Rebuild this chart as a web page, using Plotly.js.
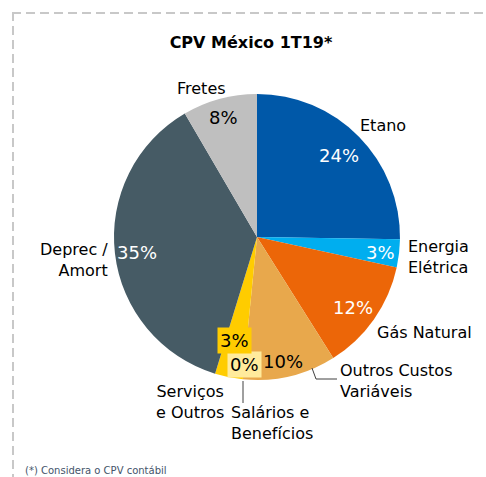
<!DOCTYPE html>
<html>
<head>
<meta charset="utf-8">
<script src="https://cdn.plot.ly/plotly-3.0.1.min.js"></script>
<style>html,body{margin:0;padding:0;background:#fff}</style>
</head>
<body>
<div id="graph"></div>
<script>
// CPV México 1T19 - shares of cost (%)
var categories = ["Etano", "Energia<br>Elétrica", "Gás Natural", "Outros Custos<br>Variáveis",
                  "Salários e<br>Benefícios", "Serviços<br>e Outros", "Deprec /<br>Amort", "Fretes"];
var shares = [24, 3, 12, 10, 0, 3, 35, 8];

var sliceColors = ["#0058A8", "#00AEEF", "#EC6608", "#E8A84C", "#FFE699", "#FFCC00", "#465B65", "#BFBFBF"];
var pctColors = ["#fff", "#fff", "#fff", "#000", "#000", "#000", "#fff", "#000"];
var pctBoxes = [null, null, null, null, "#FFEB9C", "#FFCC00", null, null];

var W = 486, H = 477;
function px(x) { return x / W; }
function py(y) { return 1 - y / H; }

// label placement (pixels): [x, y, xanchor]
var namePos = [[383, 126, "center"], [406, 257, "left"], [424, 332, "center"], [338, 381, "left"],
               [229, 423, "left"], [190, 402, "center"], [110, 260, "right"], [201, 88, "center"]];
var pctPos = [[339, 156], [380, 252], [353, 307], [283, 361], [244, 364], [234, 340], [137, 252], [223, 118]];

var font = "DejaVu Sans, sans-serif";
var annotations = [];
categories.forEach(function(c, i) {
  annotations.push({
    text: c, x: px(namePos[i][0]), y: py(namePos[i][1]), xref: "paper", yref: "paper",
    xanchor: namePos[i][2], yanchor: "middle", align: namePos[i][2] == "right" ? "right" : (namePos[i][2] == "left" ? "left" : "center"),
    showarrow: false, font: {family: font, size: 16, color: "#000"}
  });
  annotations.push({
    text: shares[i] + "%", x: px(pctPos[i][0]), y: py(pctPos[i][1]), xref: "paper", yref: "paper",
    xanchor: "center", yanchor: "middle", showarrow: false,
    bgcolor: pctBoxes[i] || "rgba(0,0,0,0)", borderpad: 2,
    font: {family: font, size: 18, color: pctColors[i]}
  });
});
annotations.push({
  text: "(*) Considera o CPV contábil", x: px(23), y: py(470), xref: "paper", yref: "paper",
  xanchor: "left", yanchor: "middle", showarrow: false,
  font: {family: font, size: 10, color: "#44546A"}
});

var data = [{
  type: "pie",
  values: shares,
  labels: categories,
  sort: false,
  direction: "clockwise",
  rotation: 0,
  textinfo: "none",
  marker: {colors: sliceColors, line: {color: "#fff", width: 0}},
  domain: {x: [px(114), px(400)], y: [py(380), py(94)]},
  hoverinfo: "none"
}];

var layout = {
  width: W,
  height: H,
  showlegend: false,
  margin: {l: 0, r: 0, t: 0, b: 0},
  paper_bgcolor: "#fff",
  title: {
    text: "<b>CPV México 1T19*</b>",
    x: px(251), y: py(42), xanchor: "center", yanchor: "middle",
    font: {family: font, size: 16, color: "#000"}
  },
  annotations: annotations,
  shapes: [
    {type: "line", xref: "paper", yref: "paper", x0: px(12), x1: px(490), y0: py(13), y1: py(13),
     line: {color: "#C8C8C8", width: 2, dash: "9px,5px"}},
    {type: "line", xref: "paper", yref: "paper", x0: px(13), x1: px(13), y0: py(12), y1: py(480),
     line: {color: "#C8C8C8", width: 2, dash: "9px,5px"}},
    {type: "path", xref: "paper", yref: "paper",
     path: "M " + px(312) + " " + py(368) + " L " + px(316) + " " + py(379) + " L " + px(337) + " " + py(379),
     line: {color: "#404040", width: 1}},
    {type: "line", xref: "paper", yref: "paper", x0: px(243), x1: px(243), y0: py(381), y1: py(403),
     line: {color: "#404040", width: 1}}
  ]
};

Plotly.newPlot(document.getElementById("graph"), data, layout, {staticPlot: true});
</script>
</body>
</html>
